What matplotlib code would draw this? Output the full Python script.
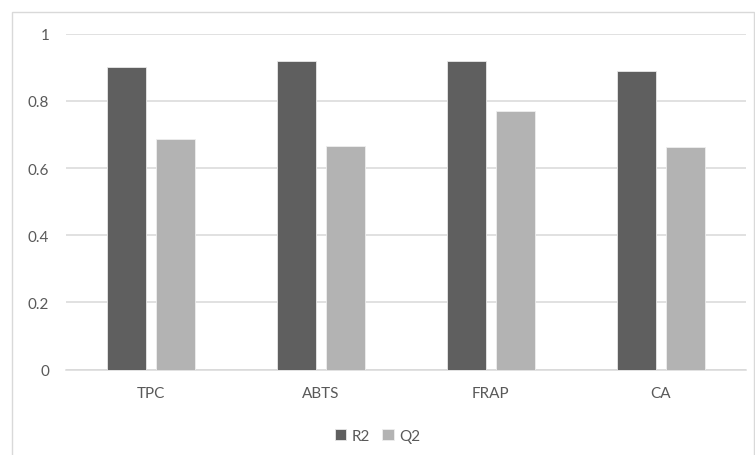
import numpy as np
import matplotlib
matplotlib.use('Agg')
import matplotlib.pyplot as plt
from matplotlib.patches import Rectangle

# data ------------------(1)
categories = ['TPC', 'ABTS', 'FRAP', 'CA']
r2 = [0.902, 0.920, 0.920, 0.888]
q2 = [0.685, 0.667, 0.770, 0.662]
y_ticks = [0, 0.2, 0.4, 0.6, 0.8, 1]
y_labels = ['0', '0.2', '0.4', '0.6', '0.8', '1']

plt.rcParams['font.family'] = ['Lato', 'DejaVu Sans']

# figure ------------------(2)
fig = plt.figure(figsize=(7.55, 4.56), dpi=100)
ax = fig.add_axes([66 / 755, 85.5 / 456, 679.7 / 755, 335.8 / 456])

x = np.arange(len(categories))
w = 0.23
gap = 0.057
ax.bar(x - (w + gap) / 2, r2, w, color='#5f5f5f', edgecolor='#e8e8e8', linewidth=0.6, label='R2', zorder=3)
ax.bar(x + (w + gap) / 2, q2, w, color='#b3b3b3', edgecolor='#eeeeee', linewidth=0.6, label='Q2', zorder=3)

ax.set_xlim(-0.5, len(categories) - 0.5)
ax.set_ylim(0, 1)
ax.set_yticks(y_ticks)
ax.set_yticklabels(y_labels)
ax.set_xticks(x)
ax.set_xticklabels(categories)
ax.grid(axis='y', color='#d9d9d9', linewidth=1.1, zorder=0)
for s in ['left', 'right', 'top']:
    ax.spines[s].set_visible(False)
ax.spines['bottom'].set_color('#d9d9d9')
ax.spines['bottom'].set_linewidth(1.1)
ax.tick_params(axis='y', length=0, pad=12, labelsize=11, labelcolor='#595959')
ax.tick_params(axis='x', length=0, pad=12, labelsize=11, labelcolor='#595959')

# legend ------------------(3)
fig.legend(loc='center', bbox_to_anchor=(0.5, 1 - 436.7 / 456), ncol=2, frameon=False,
           fontsize=11, labelcolor='#595959', handlelength=0.75, handleheight=0.75,
           handletextpad=0.35, columnspacing=0.8)

# chart frame
fig.patches.append(Rectangle((12 / 755, -0.01), 742 / 755, 1.01 - 13 / 456,
                             transform=fig.transFigure, fill=False,
                             edgecolor='#d9d9d9', linewidth=1.0))

fig.savefig('out.png', dpi=100)
